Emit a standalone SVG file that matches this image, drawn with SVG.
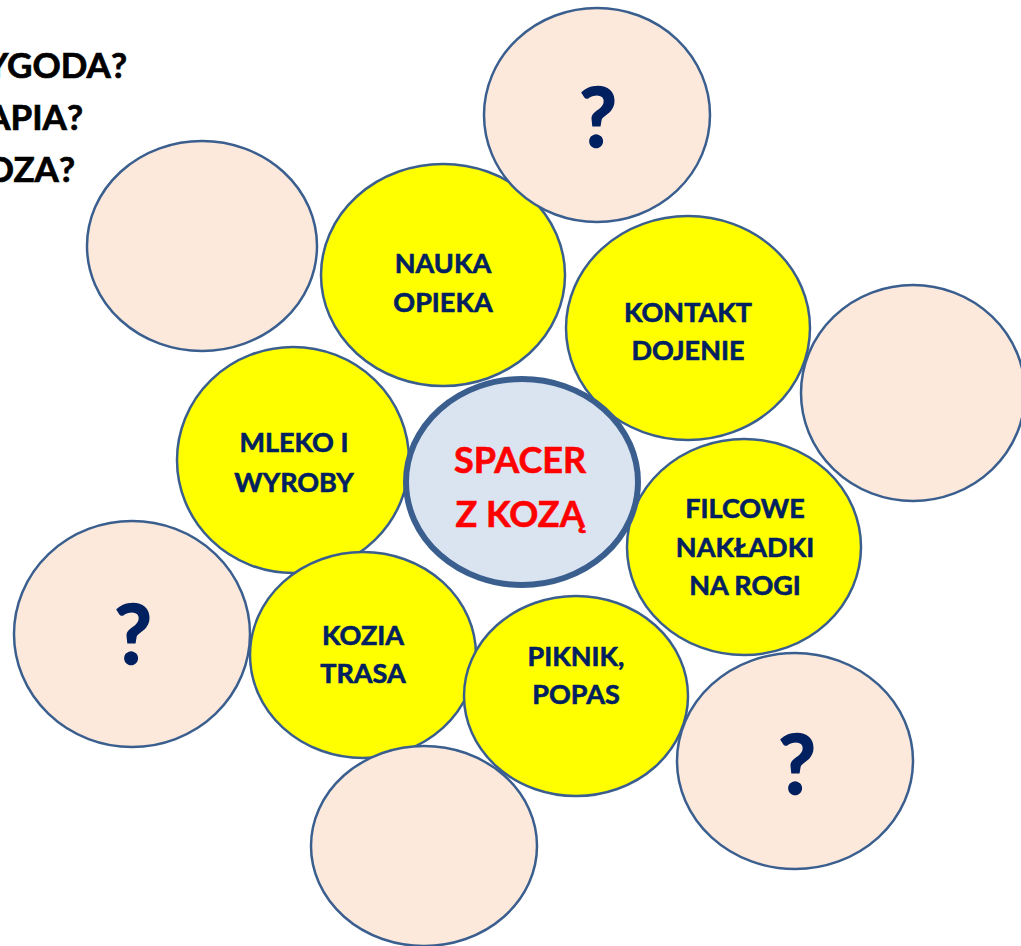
<svg xmlns="http://www.w3.org/2000/svg" width="1021" height="946" viewBox="0 0 1021 946">
<style>
.peach{fill:#fde9db;stroke:#3a5f8f;stroke-width:2.5}
.yel{fill:#ffff00;stroke:#3a5f8f;stroke-width:2.5}
.ctr{fill:#dae3f0;stroke:#3a5f8f;stroke-width:6}
.t{font-family:Lato,"Open Sans","Liberation Sans",sans-serif;font-weight:bold;fill:#002060;stroke:#002060;stroke-width:0.6;font-size:27px;text-anchor:middle}
.q{font-family:Lato,"Open Sans","Liberation Sans",sans-serif;font-weight:bold;fill:#002060;stroke:#002060;stroke-width:1.5;font-size:82px;text-anchor:middle}
.c{font-family:Lato,"Open Sans","Liberation Sans",sans-serif;font-weight:bold;fill:#ff0000;stroke:#ff0000;stroke-width:0.6;font-size:36px;text-anchor:middle}
.h{font-family:Lato,"Open Sans","Liberation Sans",sans-serif;font-weight:bold;fill:#000000;stroke:#000000;stroke-width:0.7;font-size:35px;text-anchor:end}
</style>
<g id="header">
<text class="h" x="127" y="78">YGODA?</text>
<text class="h" x="83" y="130">APIA?</text>
<text class="h" x="75" y="182">OZA?</text>
</g>
<g id="connectors"></g>
<g id="n-nauka"><ellipse class="yel" cx="443" cy="275" rx="122" ry="111"/><text class="t" x="443" y="273">NAUKA</text><text class="t" x="443" y="312">OPIEKA</text></g>
<g id="n-kontakt"><ellipse class="yel" cx="688" cy="328" rx="122" ry="112"/><text class="t" x="688" y="322">KONTAKT</text><text class="t" x="688" y="360">DOJENIE</text></g>
<g id="n-mleko"><ellipse class="yel" cx="293" cy="460" rx="116" ry="113"/><text class="t" x="294" y="452">MLEKO I</text><text class="t" x="294" y="492">WYROBY</text></g>
<g id="n-filcowe"><ellipse class="yel" cx="744" cy="547" rx="117" ry="108"/><text class="t" x="745" y="518">FILCOWE</text><text class="t" x="745" y="557">NAKŁADKI</text><text class="t" x="745" y="595">NA ROGI</text></g>
<g id="n-kozia"><ellipse class="yel" cx="363" cy="655" rx="113" ry="103"/><text class="t" x="363" y="645">KOZIA</text><text class="t" x="363" y="683">TRASA</text></g>
<g id="n-piknik"><ellipse class="yel" cx="576" cy="696" rx="112" ry="100"/><text class="t" x="576" y="666">PIKNIK,</text><text class="t" x="576" y="704">POPAS</text></g>
<g id="p-top"><ellipse class="peach" cx="597" cy="115" rx="113" ry="107"/><text class="q" x="598" y="147">?</text></g>
<g id="p-topleft"><ellipse class="peach" cx="202" cy="246" rx="115" ry="105"/></g>
<g id="p-right"><ellipse class="peach" cx="913" cy="393" rx="112" ry="108"/></g>
<g id="p-botleft"><ellipse class="peach" cx="132" cy="634" rx="118" ry="113"/><text class="q" x="133" y="664">?</text></g>
<g id="p-botright"><ellipse class="peach" cx="795" cy="761" rx="118" ry="108"/><text class="q" x="797" y="794">?</text></g>
<g id="p-bottom"><ellipse class="peach" cx="424" cy="846" rx="113" ry="100"/></g>
<g id="center"><ellipse class="ctr" cx="522" cy="482" rx="116" ry="103"/><text class="c" x="520" y="473">SPACER</text><text class="c" x="520" y="527">Z KOZĄ</text></g>
</svg>
